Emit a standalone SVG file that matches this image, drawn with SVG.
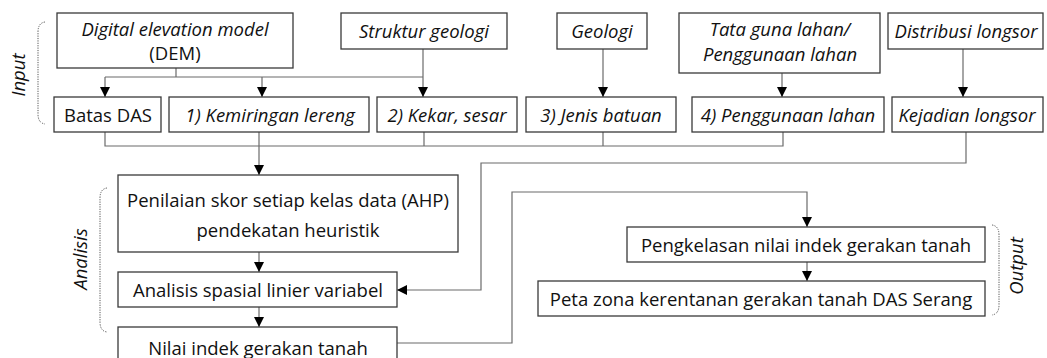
<svg xmlns="http://www.w3.org/2000/svg" width="1047" height="358" viewBox="0 0 1047 358">
<style>
.box{fill:#fff;stroke:#3a3a3a;stroke-width:1.3}
.t{font-family:"Open Sans",Lato,sans-serif;font-size:18.5px;fill:#111;text-anchor:middle}
.i{font-style:italic}
.c{fill:none;stroke:#6b6b6b;stroke-width:1.2}
.br{fill:none;stroke:#555;stroke-width:1;stroke-dasharray:1.2 1.2}
</style>
<defs>
<marker id="ah" markerWidth="10" markerHeight="10" refX="10" refY="5" orient="auto" markerUnits="userSpaceOnUse">
<path d="M0,0 L10,5 L0,10 Z" fill="#000"/>
</marker>
</defs>
<rect width="1047" height="358" fill="#fff"/>

<g id="connectors">
<path class="c" d="M176,68 V77 M105,77 H423"/>
<path class="c" d="M105,77 V97" marker-end="url(#ah)"/>
<path class="c" d="M262,77 V97" marker-end="url(#ah)"/>
<path class="c" d="M423,49 V97" marker-end="url(#ah)"/>
<path class="c" d="M603,49 V97" marker-end="url(#ah)"/>
<path class="c" d="M782,73 V97" marker-end="url(#ah)"/>
<path class="c" d="M963,49 V97" marker-end="url(#ah)"/>
<path class="c" d="M105,132 V146 H783 V132 M424,132 V146 M603,132 V146"/>
<path class="c" d="M259,132 V175" marker-end="url(#ah)"/>
<path class="c" d="M966,132 V163 H481 V290 H397" marker-end="url(#ah)"/>
<path class="c" d="M259,252 V272" marker-end="url(#ah)"/>
<path class="c" d="M259,307 V327" marker-end="url(#ah)"/>
<path class="c" d="M397,343 H512 V192 H807 V227" marker-end="url(#ah)"/>
<path class="c" d="M807,262 V281" marker-end="url(#ah)"/>
</g>

<g id="brace-input"><path class="br" d="M45,22 Q38,23 38,32 V114 Q38,123 45,124"/><text class="t i" transform="translate(25,75) rotate(-90)">Input</text></g>
<g id="brace-analisis"><path class="br" d="M107,188 Q100,189 100,198 V322 Q100,331 107,332"/><text class="t i" transform="translate(87,259) rotate(-90)">Analisis</text></g>
<g id="brace-output"><path class="br" d="M992,225 Q999,226 999,235 V305 Q999,314 992,315"/><text class="t i" transform="translate(1023,266) rotate(-90)">Output</text></g>

<g id="dem"><rect class="box" x="57" y="13" width="236" height="55"/><text class="t i" x="175" y="36">Digital elevation model</text><text class="t" x="175" y="60">(DEM)</text></g>
<g id="struktur"><rect class="box" x="341" y="13" width="166" height="36"/><text class="t i" x="424" y="38">Struktur geologi</text></g>
<g id="geologi"><rect class="box" x="557" y="13" width="90" height="36"/><text class="t i" x="602" y="38">Geologi</text></g>
<g id="tataguna"><rect class="box" x="679" y="13" width="201" height="60"/><text class="t i" x="780" y="36">Tata guna lahan/</text><text class="t i" x="780" y="61">Penggunaan lahan</text></g>
<g id="distribusi"><rect class="box" x="888" y="13" width="155" height="36"/><text class="t i" x="966" y="38">Distribusi longsor</text></g>

<g id="batas"><rect class="box" x="54" y="97" width="107" height="35"/><text class="t" x="108" y="122">Batas DAS</text></g>
<g id="kemiringan"><rect class="box" x="169" y="97" width="200" height="35"/><text class="t i" x="270" y="122">1) Kemiringan lereng</text></g>
<g id="kekar"><rect class="box" x="377" y="97" width="140" height="35"/><text class="t i" x="447" y="122">2) Kekar, sesar</text></g>
<g id="jenis"><rect class="box" x="526" y="97" width="150" height="35"/><text class="t i" x="601" y="122">3) Jenis batuan</text></g>
<g id="penggunaan"><rect class="box" x="692" y="97" width="192" height="35"/><text class="t i" x="788" y="122">4) Penggunaan lahan</text></g>
<g id="kejadian"><rect class="box" x="892" y="97" width="151" height="35"/><text class="t i" x="967" y="122">Kejadian longsor</text></g>

<g id="penilaian"><rect class="box" x="118" y="175" width="340" height="77"/><text class="t" x="288" y="207">Penilaian skor setiap kelas data (AHP)</text><text class="t" x="288" y="237">pendekatan heuristik</text></g>
<g id="analisis"><rect class="box" x="118" y="272" width="279" height="35"/><text class="t" x="258" y="297">Analisis spasial linier variabel</text></g>
<g id="nilai"><rect class="box" x="118" y="327" width="279" height="40"/><text class="t" x="258" y="355">Nilai indek gerakan tanah</text></g>
<g id="pengkelasan"><rect class="box" x="627" y="227" width="358" height="35"/><text class="t" x="806" y="252">Pengkelasan nilai indek gerakan tanah</text></g>
<g id="peta"><rect class="box" x="538" y="281" width="447" height="35"/><text class="t" x="761" y="306">Peta zona kerentanan gerakan tanah DAS Serang</text></g>
</svg>
